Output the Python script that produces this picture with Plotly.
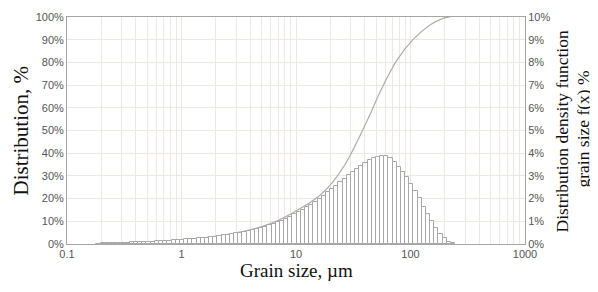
import plotly.graph_objects as go

# Bin edges of the density histogram (grain size, µm)
bin_edges_um = [
    0.1807, 0.1965, 0.2137, 0.2324, 0.2527, 0.2748, 0.2989, 0.3251, 0.3535, 0.3844,
    0.4180, 0.4546, 0.4944, 0.5377, 0.5847, 0.6359, 0.6915, 0.7520, 0.8178, 0.8894,
    0.9672, 1.052, 1.144, 1.244, 1.353, 1.471, 1.600, 1.740, 1.892, 2.058,
    2.238, 2.434, 2.647, 2.878, 3.130, 3.404, 3.702, 4.026, 4.378, 4.761,
    5.178, 5.631, 6.124, 6.660, 7.242, 7.876, 8.565, 9.315, 10.13, 11.02,
    11.98, 13.03, 14.17, 15.41, 16.76, 18.22, 19.82, 21.55, 23.44, 25.49,
    27.72, 30.14, 32.78, 35.65, 38.77, 42.16, 45.85, 49.86, 54.22, 58.97,
    64.13, 69.74, 75.84, 82.48, 89.69, 97.54, 106.1, 115.4, 125.4, 136.4,
    148.4, 161.3, 175.5, 190.8, 207.5, 225.7, 245.4,
]

# Density f(x), % per bin (right axis)
density_pct = [
    0.02, 0.03, 0.03, 0.04, 0.04, 0.05, 0.05, 0.06, 0.07, 0.07,
    0.08, 0.09, 0.10, 0.11, 0.12, 0.13, 0.14, 0.15, 0.16, 0.18,
    0.19, 0.20, 0.22, 0.23, 0.25, 0.26, 0.28, 0.30, 0.33, 0.35,
    0.38, 0.41, 0.44, 0.47, 0.50, 0.54, 0.58, 0.62, 0.66, 0.71,
    0.76, 0.82, 0.88, 0.95, 1.03, 1.11, 1.20, 1.30, 1.40, 1.50,
    1.61, 1.73, 1.86, 1.99, 2.13, 2.27, 2.42, 2.57, 2.72, 2.87,
    3.02, 3.17, 3.31, 3.45, 3.58, 3.69, 3.78, 3.85, 3.88, 3.86,
    3.78, 3.62, 3.40, 3.18, 2.93, 2.65, 2.35, 2.02, 1.65, 1.30,
    1.00, 0.72, 0.46, 0.26, 0.11, 0.03,
]

# Cumulative distribution (left axis)
cum_size_um = [0.183, 0.321, 0.531, 0.878, 1.45, 2.40, 3.96, 6.56, 10.8, 16.2,
               21.1, 26.8, 34.1, 44.3, 54.2, 76.2, 105, 148, 192, 213, 221]
cum_pct = [0.0, 0.4, 0.8, 1.5, 2.5, 4.0, 6.2, 9.8, 15.5, 21.5,
           27.5, 35.0, 45.0, 57.0, 67.0, 81.0, 90.0, 96.5, 99.4, 99.9, 100.0]

x_ticks = [0.1, 1, 10, 100, 1000]
x_tick_labels = ["0.1", "1", "10", "100", "1000"]

x_title = "Grain size, µm"
y_title = "Distribution, %"
y2_title_line1 = "Distribution density function"
y2_title_line2 = "grain size f(x) %"

bar_x = [(a + b) / 2 for a, b in zip(bin_edges_um[:-1], bin_edges_um[1:])]
bar_w = [b - a for a, b in zip(bin_edges_um[:-1], bin_edges_um[1:])]

GRID = "#eee8e4"
AXIS = "#a6a6a6"
TICKFONT = dict(family="Liberation Sans, Arial", size=11, color="#555555")
SERIF = "Liberation Serif, Times New Roman"

fig = go.Figure()
fig.add_trace(go.Bar(
    x=bar_x, y=density_pct, width=bar_w, yaxis="y2",
    marker=dict(color="white", line=dict(color="#a8a8a8", width=1)),
    showlegend=False, hoverinfo="skip",
))
fig.add_trace(go.Scatter(
    x=cum_size_um, y=cum_pct, mode="lines",
    line=dict(color="#b3aaaa", width=1.2, shape="spline"),
    showlegend=False, hoverinfo="skip",
))

# the page body adds an 8px offset at left/top, so the figure is 8px smaller than the window
fig.update_layout(
    width=590, height=284,
    margin=dict(l=59, r=73, t=9, b=48),
    paper_bgcolor="white", plot_bgcolor="white",
    bargap=0,
    xaxis=dict(
        type="log", range=[-1, 3], tickvals=x_ticks, ticktext=x_tick_labels,
        showgrid=True, gridcolor=GRID, gridwidth=1,
        minor=dict(dtick="D1", showgrid=True, gridcolor=GRID, gridwidth=1, ticks=""),
        showline=True, linecolor=AXIS, linewidth=1, mirror=True,
        ticks="", tickfont=TICKFONT, zeroline=False, automargin=False,
    ),
    yaxis=dict(
        range=[0, 100], dtick=10, ticksuffix="%",
        showgrid=True, gridcolor=GRID, gridwidth=1,
        showline=True, linecolor=AXIS, linewidth=1,
        ticks="", tickfont=TICKFONT, zeroline=False, automargin=False,
    ),
    yaxis2=dict(
        range=[0, 10], dtick=1, ticksuffix="%", overlaying="y", side="right",
        showgrid=False, showline=True, linecolor=AXIS, linewidth=1,
        ticks="", tickfont=TICKFONT, zeroline=False, automargin=False,
    ),
    annotations=[
        dict(text=x_title, xref="paper", yref="paper", x=0.5, y=0, yshift=-26,
             xanchor="center", yanchor="middle", showarrow=False,
             font=dict(family=SERIF, size=19, color="#111")),
        dict(text=y_title, xref="paper", yref="paper", x=0, y=0.5, xshift=-47,
             xanchor="center", yanchor="middle", textangle=-90, showarrow=False,
             font=dict(family=SERIF, size=21, color="#111")),
        dict(text=y2_title_line1, xref="paper", yref="paper", x=1, y=0.5, xshift=36, yshift=-1,
             xanchor="center", yanchor="middle", textangle=-90, showarrow=False,
             font=dict(family=SERIF, size=17.5, color="#111")),
        dict(text=y2_title_line2, xref="paper", yref="paper", x=1, y=0.5, xshift=57, yshift=1,
             xanchor="center", yanchor="middle", textangle=-90, showarrow=False,
             font=dict(family=SERIF, size=17.5, color="#111")),
    ],
)

fig.write_html("out.html")
